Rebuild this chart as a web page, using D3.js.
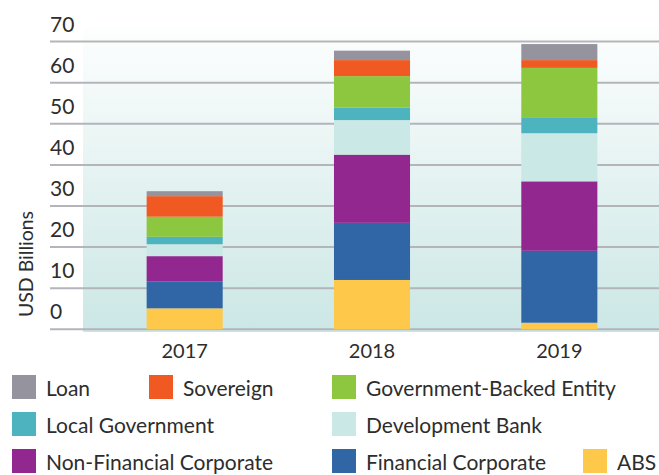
<!DOCTYPE html>
<html>
<head>
<meta charset="utf-8">
<script src="https://cdn.jsdelivr.net/npm/d3@7"></script>
<style>
  body { margin: 0; background: #fff; }
  text { font-family: Lato, 'Open Sans', sans-serif; fill: #2d2d2d; }
</style>
</head>
<body>
<div id="chart"></div>
<script>
// values in USD billions
var years = ['2017', '2018', '2019'];
var categories = ['ABS', 'Financial Corporate', 'Non-Financial Corporate', 'Development Bank',
  'Local Government', 'Government-Backed Entity', 'Sovereign', 'Loan'];
var abs = [5.1, 12.0, 1.6];
var financialCorporate = [6.5, 13.9, 17.5];
var nonFinancialCorporate = [6.2, 16.6, 16.9];
var developmentBank = [2.9, 8.4, 11.7];
var localGovernment = [1.8, 3.0, 3.9];
var governmentBacked = [4.9, 7.7, 12.0];
var sovereign = [5.0, 3.9, 1.9];
var loan = [1.2, 2.3, 3.9];
var yTicks = [0, 10, 20, 30, 40, 50, 60, 70];

var colors = {
  'ABS': '#fec94a',
  'Financial Corporate': '#3066a6',
  'Non-Financial Corporate': '#92278f',
  'Development Bank': '#c9e8e6',
  'Local Government': '#4db3bf',
  'Government-Backed Entity': '#8dc63f',
  'Sovereign': '#f05a22',
  'Loan': '#94939e'
};

var series = [abs, financialCorporate, nonFinancialCorporate, developmentBank,
  localGovernment, governmentBacked, sovereign, loan];

// one row per year for d3.stack
var table = years.map(function(yr, i) {
  var row = { year: yr };
  categories.forEach(function(c, k) { row[c] = series[k][i]; });
  return row;
});
var stacked = d3.stack().keys(categories)(table);

var W = 659, H = 475;
var svg = d3.select('#chart').append('svg')
  .attr('width', W)
  .attr('height', H);

var x = d3.scaleBand().domain(years).range([91, 653]).paddingInner(0.594).paddingOuter(0.297);
var y = d3.scaleLinear().domain([0, 70]).range([329.3, 41.6]);

// plot background, fades to white at the top
var grad = svg.append('defs').append('linearGradient')
  .attr('id', 'bg')
  .attr('x1', 0).attr('y1', 0).attr('x2', 0).attr('y2', 1);
grad.append('stop').attr('offset', '0%').attr('stop-color', '#fdfefe');
grad.append('stop').attr('offset', '100%').attr('stop-color', '#cbe7e5');
svg.append('rect')
  .attr('x', 83)
  .attr('y', 28)
  .attr('width', W - 83)
  .attr('height', 304)
  .attr('fill', 'url(#bg)');

// gridlines with labels sitting above each line
var grid = svg.append('g');
grid.selectAll('line')
  .data(yTicks)
  .enter().append('line')
  .attr('x1', 50)
  .attr('x2', W)
  .attr('y1', function(d) { return y(d); })
  .attr('y2', function(d) { return y(d); })
  .attr('stroke', '#b3b5ba')
  .attr('stroke-width', 2);
grid.selectAll('text')
  .data(yTicks)
  .enter().append('text')
  .attr('x', 50)
  .attr('y', function(d) { return y(d) - 10; })
  .attr('font-size', 21)
  .text(function(d) { return d; });

svg.append('text')
  .attr('transform', 'translate(33,264) rotate(-90)')
  .attr('text-anchor', 'middle')
  .attr('font-size', 19.5)
  .text('USD Billions');

// stacked bars
svg.append('g').selectAll('g')
  .data(stacked)
  .enter().append('g')
  .attr('fill', function(d) { return colors[d.key]; })
  .selectAll('rect')
  .data(function(d) { return d; })
  .enter().append('rect')
  .attr('x', function(d) { return x(d.data.year); })
  .attr('y', function(d) { return y(d[1]); })
  .attr('width', x.bandwidth())
  .attr('height', function(d) { return y(d[0]) - y(d[1]); });

// year labels
svg.append('g').selectAll('text')
  .data(years)
  .enter().append('text')
  .attr('x', function(d) { return x(d) + x.bandwidth() / 2; })
  .attr('y', 358)
  .attr('text-anchor', 'middle')
  .attr('font-size', 20)
  .text(function(d) { return d; });

// legend, three rows
var legendItems = [
  { key: 'Loan', col: 12, row: 0 },
  { key: 'Sovereign', col: 149, row: 0 },
  { key: 'Government-Backed Entity', col: 332, row: 0 },
  { key: 'Local Government', col: 12, row: 1 },
  { key: 'Development Bank', col: 332, row: 1 },
  { key: 'Non-Financial Corporate', col: 12, row: 2 },
  { key: 'Financial Corporate', col: 332, row: 2 },
  { key: 'ABS', col: 583, row: 2 }
];
var legend = svg.append('g').selectAll('g')
  .data(legendItems)
  .enter().append('g')
  .attr('transform', function(d) { return 'translate(' + d.col + ',' + (375 + d.row * 37) + ')'; });
legend.append('rect')
  .attr('width', 24)
  .attr('height', 24)
  .attr('fill', function(d) { return colors[d.key]; });
legend.append('text')
  .attr('x', 34)
  .attr('y', 21)
  .attr('font-size', 21)
  .text(function(d) { return d.key; });
</script>
</body>
</html>
